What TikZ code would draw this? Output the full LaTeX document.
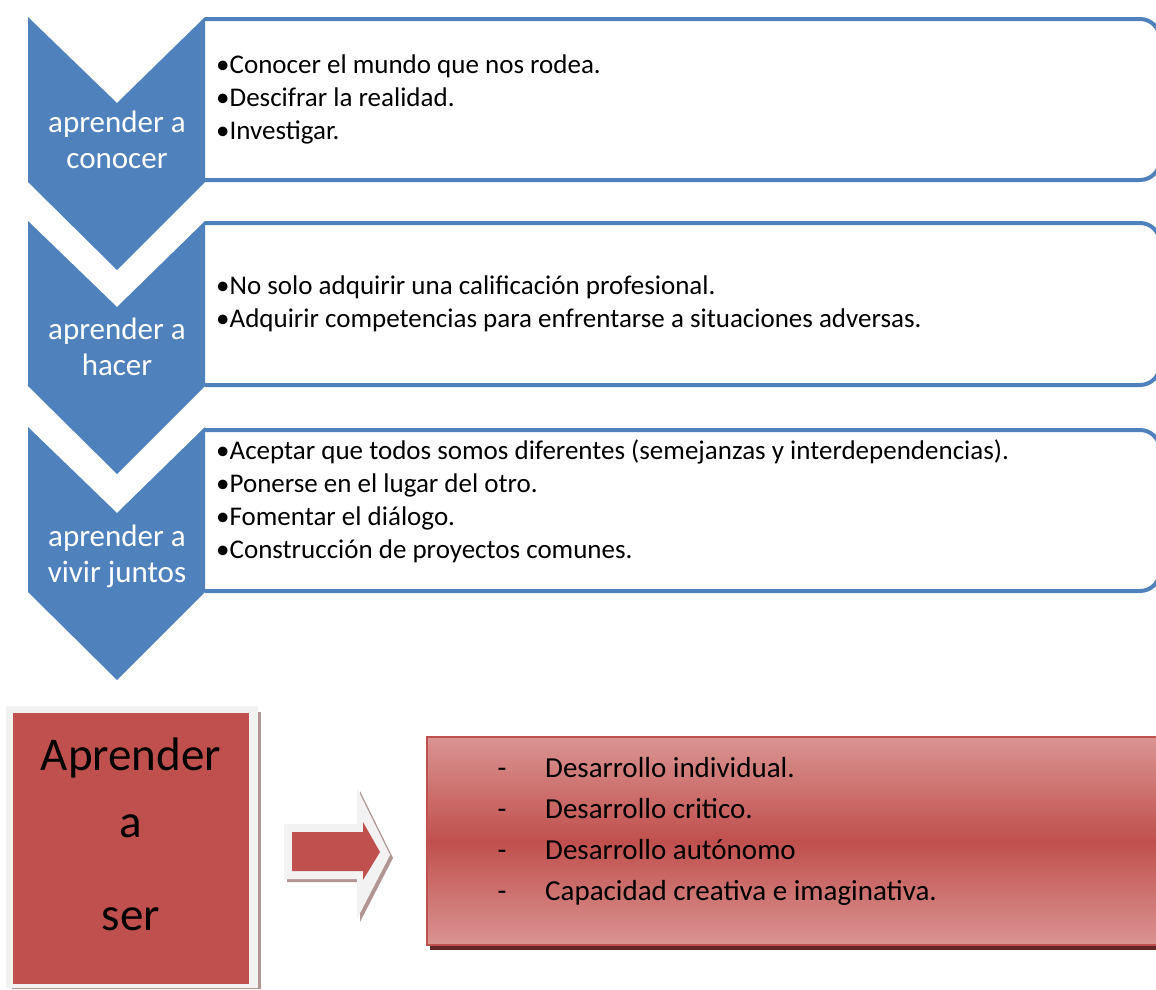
\documentclass[tikz,border=0pt]{standalone}
\usepackage{fontspec}
\setmainfont{Carlito}
\usepackage{tikz}
\usepackage{xcolor}
\definecolor{ColBlue}{RGB}{79,129,189}
\definecolor{ColRed}{RGB}{192,80,77}
\definecolor{ColRedLight}{RGB}{218,148,146}
\definecolor{ColRedDark}{RGB}{99,37,35}
\definecolor{ColFrame}{RGB}{242,242,242}
\definecolor{ColShade}{RGB}{178,150,150}
\tikzstyle{Chevron}=[fill=ColBlue,draw=none]
\tikzstyle{ListBox}=[draw=ColBlue,fill=white,line width=4pt,rounded corners=20pt]
\tikzstyle{ChevText}=[text=white,align=center,anchor=base,inner sep=0pt,
font=\fontsize{31}{36}\selectfont]
\tikzstyle{ListText}=[text=black,align=left,anchor=base west,inner sep=0pt,
font=\fontsize{27}{33}\selectfont]
\tikzstyle{SerText}=[text=black,anchor=base,inner sep=0pt,font=\fontsize{47}{56}\selectfont]
\tikzstyle{SerList}=[text=black,align=left,anchor=base west,inner sep=0pt,
font=\fontsize{29}{41}\selectfont]
\begin{document}
\begin{tikzpicture}[x=1pt,y=-1pt]
        \useasboundingbox (0,0) rectangle (1156,989);
        \clip (0,0) rectangle (1156,989);
        % list boxes, right side runs off the page
        \draw[ListBox] (205,19) -- (1160,19) -- (1160,180) -- (205,180);
        \draw[ListBox] (205,223) -- (1160,223) -- (1160,385) -- (205,385);
        \draw[ListBox] (205,430) -- (1160,430) -- (1160,591) -- (205,591);
        % chevrons
        \fill[Chevron] (28,17) -- (117,103) -- (205,17) -- (205,182) -- (117,270) -- (28,182) -- cycle;
        \fill[Chevron] (28,221) -- (117,307) -- (205,221) -- (205,386) -- (117,474) -- (28,386) -- cycle;
        \fill[Chevron] (28,427) -- (117,513) -- (205,427) -- (205,592) -- (117,680) -- (28,592) -- cycle;
        % base anchor sits on the last line
        \node[ChevText](conocer)at(117,168){aprender a\\conocer};
        \node[ChevText](hacer)at(117,375){aprender a\\hacer};
        \node[ChevText](vivir)at(117,582){aprender a\\vivir juntos};
        \node[ListText](listA)at(216,139){•Conocer el mundo que nos rodea.\\
            •Descifrar la realidad.\\•Investigar.};
        \node[ListText](listB)at(216,327){•No solo adquirir una calificación profesional.\\
            •Adquirir competencias para enfrentarse a situaciones adversas.};
        \node[ListText](listC)at(216,558){•Aceptar que todos somos diferentes (semejanzas y interdependencias).\\
            •Ponerse en el lugar del otro.\\•Fomentar el diálogo.\\
            •Construcción de proyectos comunes.};
        % aprender a ser
        \fill[ColShade] (12,712) rectangle (261,989);
        \fill[ColFrame] (6,706) rectangle (258,988);
        \fill[ColRed] (13,713) rectangle (249,984);
        \node[SerText](serA)at(131,770){Aprender};
        \node[SerText](serB)at(131,837){a};
        \node[SerText](serC)at(131,930){ser};
        % block arrow
        \fill[ColShade] (287,827) -- (360,827) -- (360,791) -- (393,858) -- (360,922)
            -- (360,882) -- (287,882) -- cycle;
        \fill[ColFrame] (284,824) -- (357,824) -- (357,788) -- (390,855) -- (357,919)
            -- (357,879) -- (284,879) -- cycle;
        \fill[ColRed] (292,832) -- (363,832) -- (363,822) -- (380,852) -- (363,880)
            -- (363,871) -- (292,871) -- cycle;
        % shaded box
        \fill[ColRedDark] (430,741) rectangle (1160,950);
        \shade[top color=ColRedLight,bottom color=ColRedLight,middle color=ColRed,
            draw=ColRed,line width=1.5pt] (427,737) rectangle (1160,945);
        \node[SerList,anchor=base](dashes)at(502,900){-\\-\\-\\-};
        \node[SerList](serList)at(545,900){Desarrollo individual.\\Desarrollo critico.\\
            Desarrollo autónomo\\Capacidad creativa e imaginativa.};
    \end{tikzpicture}
\end{document}
